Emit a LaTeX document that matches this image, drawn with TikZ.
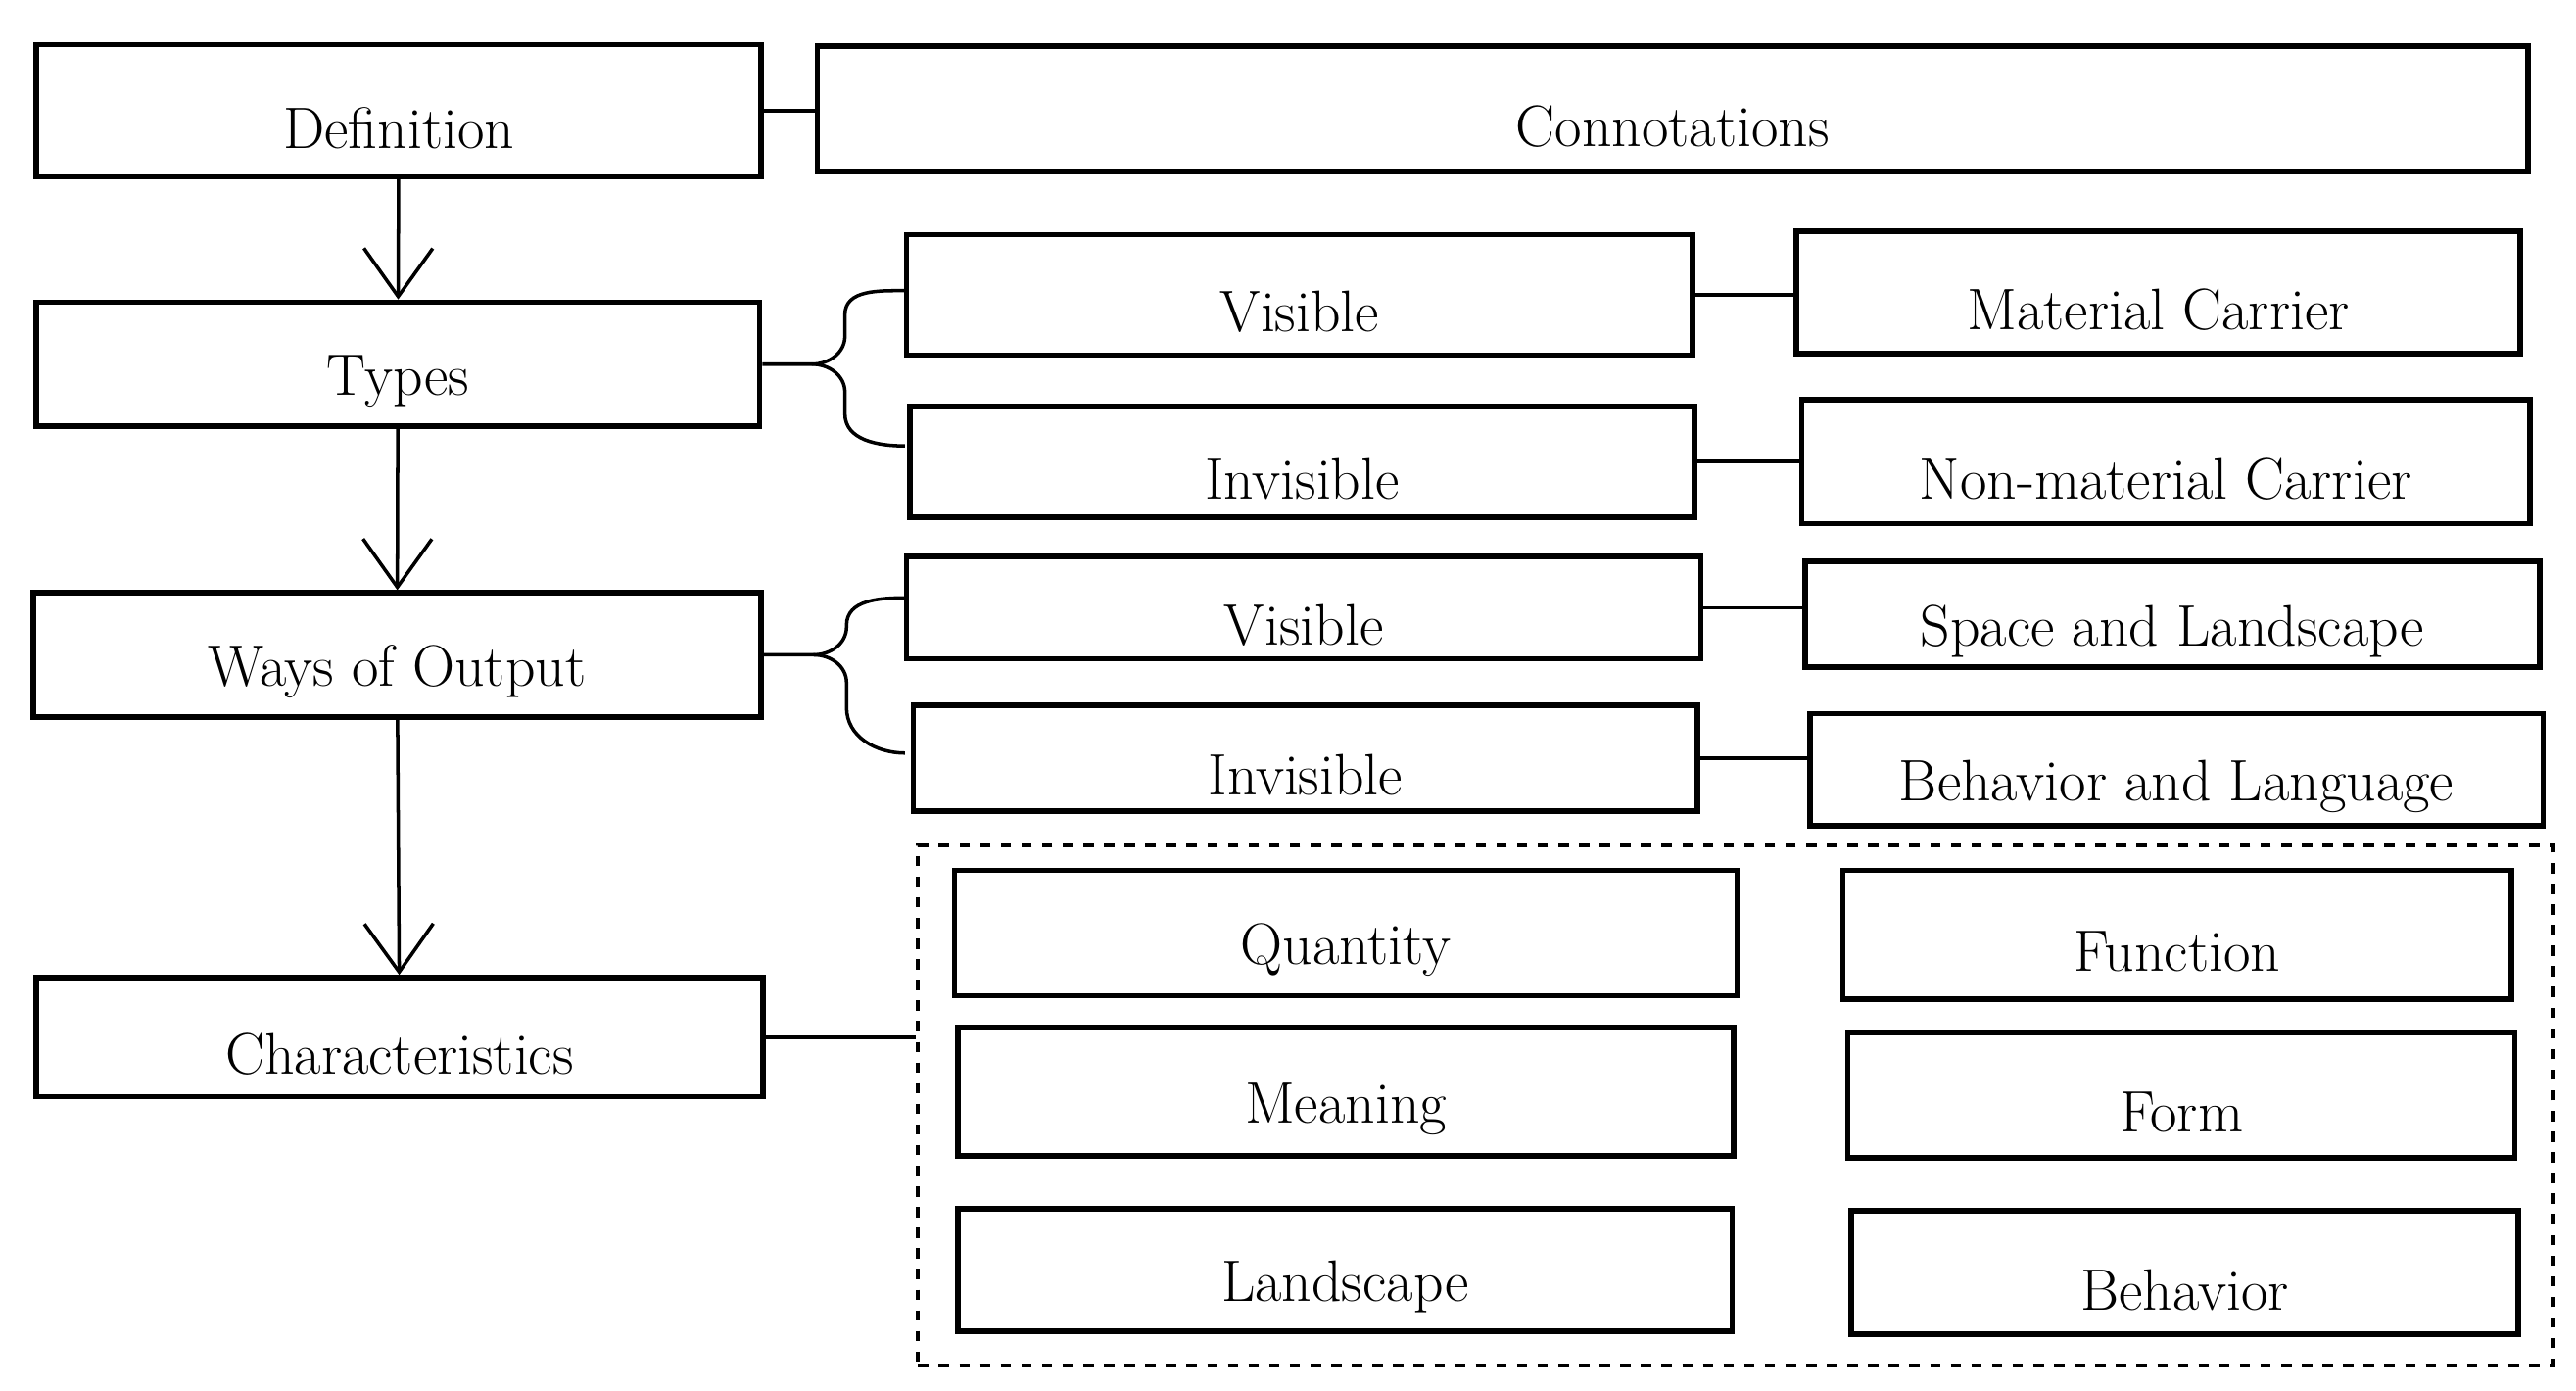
\documentclass[tikz,border=0pt]{standalone}
\usetikzlibrary{fit,arrows.meta}
\begin{document}
\begin{tikzpicture}[x=0.01686cm,y=-0.01686cm,
  box/.style={draw,line width=1.6pt,inner sep=0pt},
  lbl/.style={label={[font=\fontsize{17}{20}\selectfont,yshift=-5pt]center:#1}},
  line/.style={line width=1pt},
  arr/.style={line width=1pt,-{Straight Barb[length=14pt,width=20pt,line width=1pt]}}]
\useasboundingbox (0,0) rectangle (1560,842);
% left column
\node[box,fit={(22,27)(461,107)},lbl=Definition] (def) {};
\node[box,fit={(22,183)(460,258)},lbl=Types] (typ) {};
\node[box,fit={(20,359)(461,434)},lbl=Ways of Output] (way) {};
\node[box,fit={(22,592)(462,664)},lbl=Characteristics] (cha) {};
% right boxes
\node[box,fit={(495,28)(1531,104)},lbl=Connotations] (con) {};
\node[box,fit={(549,142)(1025,215)},lbl=Visible] (vis1) {};
\node[box,fit={(551,246)(1026,313)},lbl=Invisible] (inv1) {};
\node[box,fit={(1088,140)(1526,214)},lbl=Material Carrier] (mat) {};
\node[box,fit={(1091,242)(1532,317)},lbl=Non-material Carrier] (non) {};
\node[box,fit={(549,337)(1030,399)},lbl=Visible] (vis2) {};
\node[box,fit={(553,427)(1028,491)},lbl=Invisible] (inv2) {};
\node[box,fit={(1093,340)(1538,404)},lbl=Space and Landscape] (spa) {};
\node[box,fit={(1096,432)(1540,500)},lbl=Behavior and Language] (beh) {};
% characteristics group
\node[draw,dashed,line width=1.2pt,inner sep=0pt,fit={(556,512)(1546,827)}] (grp) {};
\node[box,fit={(578,527)(1052,603)},lbl=Quantity] (qua) {};
\node[box,fit={(1116,527)(1521,605)},lbl=Function] (fun) {};
\node[box,fit={(580,622)(1050,700)},lbl=Meaning] (mea) {};
\node[box,fit={(1119,625)(1523,701)},lbl=Form] (frm) {};
\node[box,fit={(580,732)(1049,806)},lbl=Landscape] (lan) {};
\node[box,fit={(1121,733)(1525,808)},lbl=Behavior] (bhv) {};
% arrows
\draw[arr] (def) -- (typ);
\draw[arr] (typ) -- (way);
\draw[arr] (way) -- (cha);
% connectors
\draw[line] (def.east) -- (con.west |- def.east);
\draw[line] (vis1.east) -- (mat.west |- vis1.east);
\draw[line] (inv1.east) -- (non.west |- inv1.east);
\draw[line] (vis2.east) -- (spa.west |- vis2.east);
\draw[line] (inv2.east) -- (beh.west |- inv2.east);
\draw[line] (cha.east) -- (grp.west |- cha.east);
% braces
\draw[line] (typ.east) -- ++(30,0) coordinate (tb) to[out=0,in=-90] ++(20,-17) -- ++(0,-13)
  to[out=90,in=180] (548,176);
\draw[line] (tb) to[out=0,in=90] ++(20,17) -- ++(0,13)
  to[out=-90,in=180] (548,270);
\draw[line] (way.east) -- ++(30,0) coordinate (wb) to[out=0,in=-90] ++(20,-17) -- ++(0,-1)
  to[out=90,in=180] (548,362);
\draw[line] (wb) to[out=0,in=90] ++(20,17) -- ++(0,15)
  to[out=-90,in=180] (548,456);
\end{tikzpicture}
\end{document}
